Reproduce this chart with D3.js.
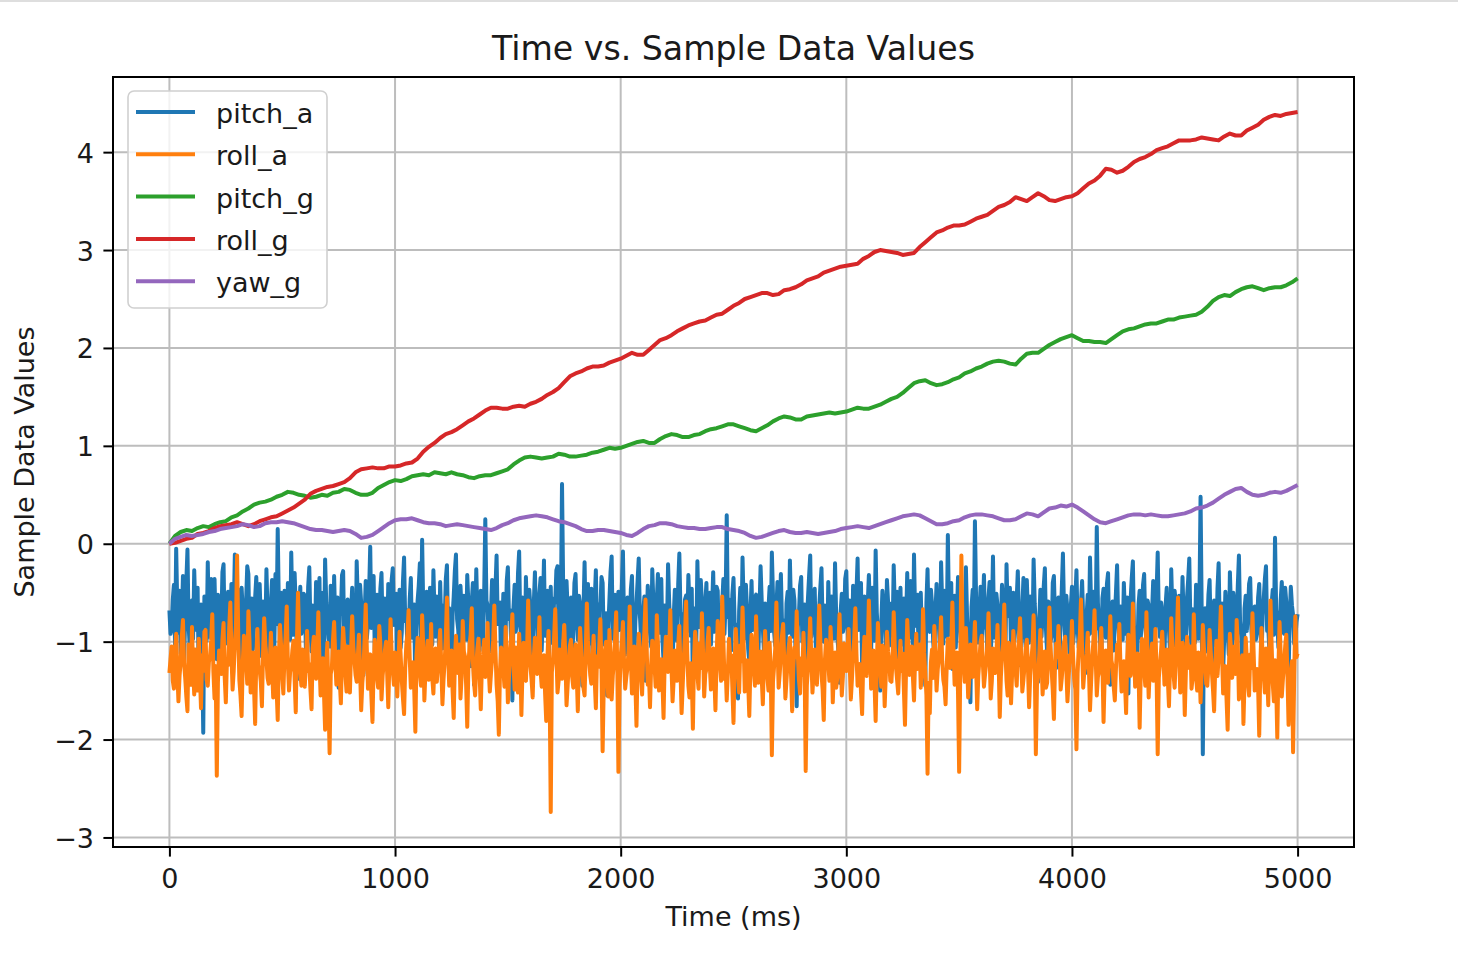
<!DOCTYPE html>
<html>
<head>
<meta charset="utf-8">
<script src="https://cdn.jsdelivr.net/npm/d3@7"></script>
<style>
  body { margin: 0; background: #fff; }
  svg { display: block; font-family: "DejaVu Sans", sans-serif; }
</style>
</head>
<body>
<div class="graph"></div>
<script>
// sample spacing of the two kinds of series (ms)
const accelStepMs = 5;
const gyroStepMs = 25;

const xTicks = [0, 1000, 2000, 3000, 4000, 5000];
const yTicks = [-3, -2, -1, 0, 1, 2, 3, 4];

const seriesNames = ["pitch_a", "roll_a", "pitch_g", "roll_g", "yaw_g"];
const seriesColors = ["#1f77b4", "#ff7f0e", "#2ca02c", "#d62728", "#9467bd"];

// one row = 200 ms
const pitchA = [
  -0.68,-0.92,-0.85,-0.57,-0.42,-1.03,-0.05,-0.66,-0.91,-0.48,-1.12,-0.79,-0.33,-1.21,-0.74,-0.39,-0.06,-0.83,-1.05,-0.61,-0.58,-0.97,-0.27,-0.70,-0.88,-0.45,-1.41,-0.76,-0.62,-1.10,-1.93,-0.54,-0.71,-0.99,-0.19,-0.81,-0.95,-0.36,-0.52,-1.14,
  -0.36,-0.88,-1.18,-0.52,-0.64,-1.07,-0.83,-0.29,-0.21,-0.94,-1.02,-0.63,-0.49,-1.15,-0.77,-0.41,-1.32,-0.72,-0.11,-0.86,-0.69,-0.47,-0.92,-1.20,-0.45,-0.68,-1.25,-0.90,-0.58,-0.23,-0.31,-1.01,-0.87,-0.56,-1.08,-0.80,-0.55,-0.34,-0.73,-1.11,
  -0.41,-0.78,-1.15,-0.59,-0.66,-0.95,-0.26,-0.71,-0.97,-1.24,-0.60,-0.37,-0.84,-1.06,-0.31,-0.82,0.15,-0.64,-1.02,-0.50,-0.72,-1.13,-0.48,-0.87,-1.21,-0.40,-0.57,-0.98,-0.09,-0.69,-0.93,-0.30,-0.66,-1.17,-1.38,-0.75,-0.44,-0.92,-0.80,-0.51,
  -0.53,-1.09,-0.98,-0.44,-0.24,-0.85,-1.10,-0.63,-0.67,-1.00,-0.39,-0.74,-0.86,-0.35,-1.29,-0.90,-0.50,-1.18,-0.16,-0.60,-0.78,-0.96,-1.05,-0.43,-0.62,-1.22,-0.33,-0.81,-0.94,-0.55,-1.47,-0.73,-0.71,-0.32,-0.28,-1.04,-0.89,-0.67,-0.57,-1.15,
  -1.12,-0.70,-0.45,-0.93,-0.73,-1.19,-0.18,-0.58,-0.96,-0.42,-0.61,-1.05,-1.34,-0.77,-0.38,-0.97,-0.82,-0.49,-0.03,-0.86,-0.69,-0.33,-1.08,-0.62,-0.52,-1.26,-0.87,-0.46,-0.30,-0.91,-1.16,-0.56,-0.64,-1.02,-0.41,-0.74,-0.99,-0.37,-0.25,-0.83,
  -0.76,-0.51,-1.23,-0.84,-0.47,-1.06,-0.90,-0.39,-0.14,-0.79,-0.68,-1.12,-1.01,-0.57,-0.35,-0.96,-0.83,-0.62,-1.52,-0.88,-0.58,-0.43,-0.20,-0.99,0.04,-0.67,-0.91,-1.17,-0.49,-0.80,-1.13,-0.45,-0.72,-1.03,-0.27,-0.71,-0.95,-0.54,-0.61,-1.08,
  -0.39,-0.85,-1.07,-0.63,-0.80,-0.36,-0.22,-0.92,-0.66,-1.01,-1.36,-0.74,-0.54,-0.28,-0.11,-0.77,-0.88,-1.14,-0.43,-0.69,-1.19,-0.53,-0.70,-0.98,-0.32,-0.61,-0.97,-1.25,-0.59,-0.40,-1.44,-0.87,-0.26,-0.73,-0.81,-1.09,-0.48,-0.66,-1.03,-0.50,
  0.25,-0.58,-0.63,-0.95,-1.10,-0.71,-0.37,-1.02,-0.85,-0.46,-0.12,-0.82,-0.74,-0.60,-1.27,-0.89,-0.51,-1.16,-0.93,-0.38,-0.24,-0.77,-0.68,-1.04,-1.60,-0.65,-0.42,-0.90,-0.79,-0.30,-0.08,-0.84,-1.01,-0.55,-0.56,-1.20,-0.34,-0.72,-0.89,-0.47,
  -0.65,-0.99,-1.21,-0.61,-0.29,-0.80,-0.82,-1.13,-0.50,-0.35,-1.09,-0.70,-0.17,-0.94,-0.73,-0.48,-1.36,-0.83,-0.44,-1.01,-0.91,-0.56,-0.60,-0.27,-0.23,-0.89,-1.05,-0.64,0.61,-0.42,-0.77,-1.10,-0.38,-0.68,-1.14,-0.81,-0.55,-1.24,-0.86,-0.40,
  -0.31,-0.76,-0.98,-0.53,-0.62,-1.08,-1.45,-0.69,-0.19,-0.87,-0.75,-0.41,-1.02,-0.78,-0.46,-1.15,-0.84,-0.58,-0.27,-0.95,-1.18,-0.62,-0.67,-0.34,-0.40,-1.03,-0.92,-0.71,-1.55,-0.85,-0.58,-0.29,-0.13,-0.97,-0.81,-0.52,-1.06,-0.73,-0.49,-0.88,
  -0.72,-0.45,-0.08,-0.84,-1.13,-0.66,-0.55,-1.00,-0.88,-0.47,-0.33,-0.93,-1.24,-0.79,-0.61,-0.38,-0.15,-0.72,-0.96,-1.19,-0.70,-0.54,-1.40,-0.86,-0.43,-0.67,-0.79,-1.05,-0.26,-0.60,-1.07,-0.82,-0.58,-0.31,-0.91,-0.74,-0.36,-0.98,-1.20,-0.63,
  -0.64,-0.92,-0.21,-0.60,-0.87,-1.06,-1.31,-0.75,-0.47,-0.83,-0.99,-0.41,-0.10,-0.70,-0.73,-1.14,-1.11,-0.57,-0.53,-0.89,-0.32,-0.65,-0.94,-0.46,-1.48,-0.80,-0.66,-1.02,-0.18,-0.71,-0.85,-0.37,-0.59,-0.96,-1.16,-0.62,-0.40,-1.09,-0.77,-0.50,
  -1.03,-0.67,-0.29,-0.90,-0.71,-0.44,-0.48,-1.01,-1.26,-0.78,-0.62,-0.36,-0.92,-0.59,0.29,-0.75,-0.57,-0.98,-1.09,-0.52,-0.35,-0.81,-0.83,-1.18,-1.58,-0.69,-0.45,-0.93,-0.14,-0.63,-0.97,-0.42,-0.68,-1.07,-1.21,-0.74,-0.38,-0.88,-0.80,-0.55,
  -0.52,-0.96,-1.14,-0.70,-0.23,-0.58,-0.86,-1.10,-0.61,-0.84,-1.37,-0.66,-0.44,-0.89,-0.09,-0.53,-0.90,-1.04,-0.67,-0.39,-1.03,-0.74,-0.31,-0.82,-0.78,-1.15,-1.22,-0.61,-0.49,-0.91,-0.17,-0.68,-0.95,-0.47,-0.58,-1.12,-1.66,-0.85,-0.72,-0.43,
  -0.34,-1.00,-0.89,-0.62,-1.17,-0.79,-0.56,-0.33,-0.12,-0.95,-0.81,-0.57,-0.46,-1.08,-1.30,-0.71,-0.65,-0.44,-0.25,-0.86,-1.00,-0.63,-0.74,-1.19,-0.39,-0.80,-1.12,-0.54,-0.60,-0.97,-0.20,-0.73,-0.93,-1.11,-1.42,-0.69,-0.51,-0.90,-0.84,-0.36,
  -0.28,-0.82,-1.06,-0.58,-0.69,-1.13,-0.43,-0.76,-0.98,-0.50,-0.15,-0.88,-0.77,-0.40,-1.25,-0.93,-0.54,-1.02,-0.87,-0.61,-0.32,-0.72,-1.10,-0.45,-0.63,-0.99,-0.07,-0.70,-0.92,-1.16,-1.50,-0.81,-0.48,-0.64,-0.79,-1.05,-0.37,-0.59,-1.04,-0.76,
  -0.61,-0.94,-0.22,-0.67,-0.88,-0.49,-1.19,-0.83,-0.45,-1.03,-0.73,-0.56,-1.33,-0.78,-0.30,-0.91,-0.96,-0.38,-0.57,-1.11,-0.11,-0.75,-0.84,-0.52,-1.08,-0.66,-0.50,-0.97,-0.70,-1.21,-1.45,-0.60,-0.26,-0.85,-0.90,-0.47,-0.62,-1.00,-1.15,-0.71,
  -0.41,-0.77,-0.82,-1.09,-0.19,-0.63,-1.02,-0.48,-0.66,-0.95,0.09,-0.71,-0.93,-0.40,-1.28,-0.81,-0.53,-1.06,-0.76,-0.34,-0.35,-0.88,-1.13,-0.60,-0.58,-0.92,-0.24,-0.73,-0.99,-1.17,-1.62,-0.65,-0.47,-0.90,0.23,-0.55,-0.86,-1.01,-0.69,-0.44,
  -1.07,-0.68,-0.32,-0.86,-0.79,-1.12,-0.55,-0.39,-1.20,-0.74,-0.13,-0.96,-0.87,-0.51,-0.63,-1.04,-1.35,-0.80,-0.42,-0.62,-0.95,-1.18,-0.21,-0.70,-0.74,-0.45,-1.10,-0.89,-0.50,-0.99,-0.83,-0.57,-0.28,-0.76,-1.24,-0.93,-0.66,-0.35,-0.91,-1.05,
  -0.37,-0.73,-1.01,-0.54,-0.58,-0.97,-0.16,-0.61,-0.85,-1.08,-1.41,-0.82,-0.47,-0.95,-0.72,-0.43,-0.25,-0.88,-1.12,-0.59,-0.64,-1.00,-0.94,-0.40,-0.33,-0.78,-1.27,-0.65,-0.55,-1.14,-0.80,-0.46,-0.10,-0.71,-0.98,-0.53,-0.68,-0.90,-1.17,-0.64,
  -0.44,-1.02,-0.89,-0.57,-0.27,-0.84,-1.06,-0.69,-0.61,-0.38,-0.78,-1.15,-1.32,-0.74,-0.52,-0.93,-0.14,-0.66,-0.91,-0.49,-0.70,-0.87,0.17,-0.60,-0.83,-1.03,-1.19,-0.56,-0.46,-0.79,-0.96,-0.41,-0.30,-1.00,-1.44,-0.72,-0.59,-1.09,-0.75,-0.50,
  -0.22,-0.81,-1.03,-0.64,-0.67,-0.98,-0.40,-0.73,-0.92,-0.55,-1.53,-0.86,-0.57,-0.35,-0.18,-0.90,-0.86,-1.20,-1.12,-0.62,-0.48,-0.96,-0.76,-0.42,-0.31,-0.84,-1.00,-0.58,-0.63,-1.07,-1.29,-0.70,-0.38,-0.99,-0.82,-0.51,-0.09,-0.77,-0.95,-0.60,
  -0.71,-0.94,-1.16,-0.63,-0.45,-0.80,-0.88,-1.12,-0.26,-0.69,-1.04,-0.48,-0.60,-0.91,-0.79,-0.53,-1.38,-0.85,-0.34,-0.76,-0.93,-1.05,-0.55,-0.37,-0.15,-0.83,-1.09,-0.67,-0.73,-1.01,-0.42,-0.78,-0.97,-0.58,0.48,-0.70,-2.15,-0.92,-0.66,-1.10,
  -0.84,-0.52,-0.37,-0.91,-1.22,-0.77,-0.58,-1.04,-0.99,-0.46,-0.20,-0.85,-0.75,-0.61,-1.31,-0.94,-0.49,-0.72,-0.87,-1.13,-0.29,-0.68,-1.05,-0.50,-0.62,-0.97,-0.81,-0.43,-0.12,-0.79,-0.94,-1.18,-1.43,-0.66,-0.53,-0.89,-0.70,-0.41,-0.35,-0.86,
  -1.08,-0.70,-0.64,-0.98,-0.90,-0.55,-0.41,-0.83,-1.18,-0.74,-0.56,-0.36,-0.23,-0.89,-0.85,-1.10,-1.26,-0.61,-0.47,-0.93,0.06,-0.67,-0.78,-1.06,-1.01,-0.58,-0.39,-0.84,-0.92,-0.45,-0.60,-1.00,-1.35,-0.76,-0.44,-0.63,-0.73,-1.02,-0.97,-0.80,
  -0.72
];

const rollA = [
  -1.32,-1.18,-1.05,-1.40,-1.48,-1.10,-0.92,-1.29,-1.61,-1.35,-1.20,-0.95,-0.78,-1.22,-1.37,-1.56,-1.71,-1.03,-1.12,-1.44,-0.85,-1.27,-1.54,-1.08,-1.26,-1.50,-0.97,-1.33,-1.68,-1.14,-1.30,-0.90,-0.88,-1.39,-1.45,-1.21,-1.15,-0.99,-0.72,-1.31,
  -1.58,-1.25,-2.37,-1.42,-1.09,-1.17,-1.33,-0.98,-0.81,-1.36,-1.62,-1.19,-1.24,-0.86,-0.60,-1.13,-1.49,-1.30,-1.02,-0.84,-0.12,-0.91,-1.39,-1.55,-1.76,-1.23,-0.94,-1.07,-1.21,-1.43,-0.69,-1.00,-1.52,-1.28,-1.11,-1.47,-1.84,-1.16,-0.87,-1.24,
  -1.29,-1.41,-1.66,-1.12,-0.76,-1.02,-1.18,-1.37,-1.43,-1.20,-0.91,-1.26,-1.57,-1.33,-1.06,-1.48,-1.80,-1.15,-0.83,-1.04,-1.35,-1.53,-1.14,-0.95,-0.64,-1.22,-1.50,-1.31,-1.25,-1.09,-0.99,-1.38,-1.72,-1.01,-0.50,-0.97,-1.31,-1.45,-1.08,-1.19,
  -1.46,-1.21,-0.89,-1.30,-1.23,-1.49,-1.69,-1.07,-0.95,-1.28,-1.38,-1.11,-0.70,-1.19,-1.55,-1.36,-1.17,-1.52,-1.90,-1.24,-1.01,-1.60,-2.14,-1.33,-1.27,-0.98,-0.80,-1.18,-1.44,-1.27,-1.10,-1.40,-1.63,-1.14,-0.86,-1.06,-1.34,-1.51,-1.05,-1.25,
  -1.52,-1.10,-0.74,-1.05,-1.19,-1.34,-1.41,-1.16,-0.93,-1.29,-1.70,-1.42,-1.28,-0.97,-0.62,-1.08,-1.48,-1.23,-1.13,-1.55,-1.82,-1.26,-0.98,-1.12,-1.36,-1.47,-0.84,-1.02,-1.59,-1.35,-1.22,-1.09,-1.00,-1.32,-1.67,-1.20,-0.77,-1.13,-1.30,-1.44,
  -1.11,-1.30,-1.56,-1.22,-0.90,-1.15,-1.40,-1.58,-1.74,-1.27,-1.03,-0.92,-0.68,-1.17,-1.47,-1.35,-1.21,-1.49,-1.92,-1.14,-0.96,-1.08,-1.33,-1.45,-0.73,-1.04,-1.60,-1.28,-1.16,-0.99,-1.39,-1.24,-0.82,-1.37,-1.53,-1.19,-1.07,-1.41,-1.26,-1.06,
  -0.88,-1.25,-1.64,-1.38,-1.20,-0.96,-0.55,-1.11,-1.45,-1.31,-1.09,-1.50,-1.78,-1.21,-0.94,-1.18,-1.32,-1.03,-1.58,-1.36,-0.79,-1.10,-1.15,-1.44,-1.87,-1.27,-1.04,-0.93,-0.66,-1.20,-1.42,-1.55,-1.24,-1.07,-0.97,-1.34,-1.69,-1.23,-1.13,-0.98,
  -1.36,-1.14,-0.81,-1.27,-1.51,-1.33,-1.18,-0.99,-0.63,-1.09,-1.44,-1.61,-1.95,-1.30,-1.06,-1.20,-1.29,-1.46,-0.85,-1.13,-1.62,-1.37,-1.12,-0.94,-0.72,-1.23,-1.49,-1.06,-1.34,-1.52,-0.92,-1.17,-1.75,-1.28,-1.01,-1.39,-1.40,-1.10,-0.58,-1.02,
  -1.25,-1.39,-1.57,-1.16,-0.96,-1.24,-1.33,-1.05,-0.75,-1.29,-1.46,-1.35,-1.14,-1.53,-1.81,-1.20,-0.89,-1.42,-2.74,-1.31,-1.19,-0.95,-0.67,-1.11,-1.52,-1.40,-1.08,-1.26,-1.38,-1.02,-0.83,-1.18,-1.65,-1.45,-1.22,-1.04,-0.98,-1.36,-1.47,-1.21,
  -1.03,-1.32,-1.71,-1.19,-0.86,-1.08,-1.30,-1.47,-1.55,-1.13,-0.61,-0.99,-1.17,-1.34,-1.43,-1.22,-0.94,-1.40,-1.68,-1.15,-1.26,-1.05,-0.77,-1.28,-2.12,-1.44,-1.10,-1.00,-1.37,-1.56,-0.88,-1.14,-1.59,-1.35,-1.21,-0.97,-0.70,-1.26,-2.33,-1.48,
  -1.15,-1.02,-0.80,-1.21,-1.48,-1.36,-1.27,-1.09,-0.64,-1.17,-1.53,-1.30,-1.05,-1.42,-1.86,-1.23,-0.92,-1.11,-1.35,-1.54,-1.12,-0.90,-0.57,-1.06,-1.44,-1.32,-1.67,-1.25,-0.99,-1.13,-1.24,-1.46,-0.73,-1.01,-1.50,-1.34,-1.18,-1.41,-1.78,-1.20,
  -0.95,-1.19,-1.31,-1.07,-0.68,-1.25,-1.61,-1.38,-1.09,-1.22,-1.40,-1.03,-0.84,-1.30,-1.73,-1.44,-1.16,-0.93,-0.59,-1.12,-1.45,-1.57,-1.22,-1.35,-1.89,-1.17,-0.90,-1.04,-1.34,-1.48,-1.02,-1.27,-0.71,-1.10,-1.56,-1.33,-1.28,-1.01,-0.86,-1.24,
  -1.49,-1.28,-1.07,-1.35,-1.70,-1.18,-0.79,-1.06,-1.23,-1.40,-0.54,-0.98,-1.38,-1.25,-1.60,-1.31,-0.97,-1.15,-1.14,-1.47,-1.83,-1.22,-0.87,-1.09,-1.32,-1.52,-1.04,-1.20,-0.65,-1.03,-1.51,-1.36,-1.19,-1.42,-1.76,-1.24,-0.93,-1.11,-1.29,-1.45,
  -0.74,-1.08,-1.42,-1.26,-1.10,-1.37,-1.64,-1.19,-0.89,-1.14,-1.36,-1.50,-1.01,-1.29,-2.16,-1.41,-1.25,-1.07,-0.60,-1.02,-1.47,-1.32,-1.13,-0.94,-0.82,-1.21,-1.58,-1.39,-1.20,-1.05,-0.96,-1.33,-1.71,-1.27,-1.06,-1.16,-0.69,-1.12,-1.39,-1.53,
  -1.17,-1.34,-0.91,-1.22,-2.32,-1.45,-1.27,-1.09,-0.76,-1.18,-1.52,-1.31,-1.08,-1.25,-1.44,-1.03,-0.63,-0.99,-1.33,-1.49,-1.80,-1.20,-0.98,-1.14,-1.21,-1.40,-0.85,-1.10,-1.62,-1.29,-1.11,-1.47,-1.37,-1.05,-0.72,-1.16,-1.55,-1.35,-1.02,-1.23,
  -1.30,-1.12,-0.87,-1.24,-1.59,-1.38,-1.14,-0.97,-0.66,-1.13,-1.45,-1.27,-1.23,-1.51,-1.74,-1.20,-0.95,-1.16,-1.35,-1.06,-0.58,-1.01,-1.48,-1.32,-1.09,-1.43,-1.81,-1.26,-0.81,-1.08,-1.28,-1.46,-1.04,-1.21,-1.66,-1.34,-0.90,-1.10,-1.19,-1.40,
  -1.41,-1.18,-0.70,-1.07,-1.26,-1.39,-1.53,-1.22,-0.99,-1.30,-1.12,-1.48,-1.85,-1.25,-0.78,-1.04,-1.34,-1.19,-1.05,-1.36,-1.60,-1.15,-0.92,-1.28,-1.20,-1.03,-1.47,-1.32,-0.67,-1.11,-1.31,-1.55,-2.35,-1.42,-1.73,-1.21,-1.08,-1.37,-0.84,-1.13,
  -1.50,-1.29,-1.16,-1.02,-0.75,-1.20,-1.39,-1.46,-1.64,-1.25,-0.97,-1.14,-1.27,-1.06,-0.60,-1.09,-1.44,-1.33,-1.11,-1.52,-2.33,-1.30,-0.12,-0.88,-1.24,-1.41,-0.86,-1.17,-1.57,-1.38,-1.03,-1.26,-1.36,-1.08,-0.80,-1.23,-1.69,-1.35,-1.18,-1.00,
  -0.94,-1.21,-1.46,-1.33,-1.22,-1.04,-0.71,-1.12,-1.58,-1.40,-1.07,-1.27,-1.32,-1.15,-0.83,-1.19,-1.77,-1.36,-1.15,-1.02,-0.62,-1.08,-1.40,-1.55,-1.01,-1.24,-1.63,-1.31,-0.89,-1.10,-1.28,-1.45,-1.13,-0.98,-0.76,-1.17,-1.51,-1.39,-1.25,-1.06,
  -0.98,-1.26,-1.67,-1.35,-1.19,-1.05,-0.73,-1.22,-2.15,-1.44,-1.36,-1.13,-0.88,-1.18,-1.54,-1.32,-1.10,-1.47,-1.42,-1.09,-0.65,-1.03,-1.29,-1.50,-1.79,-1.24,-1.02,-1.16,-0.84,-1.11,-1.49,-1.37,-1.21,-1.01,-0.95,-1.28,-1.61,-1.40,-1.14,-1.20,
  -0.79,-1.15,-1.38,-1.49,-2.10,-1.33,-1.06,-0.93,-0.57,-1.08,-1.47,-1.30,-1.24,-1.12,-0.91,-1.27,-1.70,-1.41,-1.17,-0.99,-0.68,-1.14,-1.55,-1.36,-1.31,-1.04,-0.86,-1.23,-1.82,-1.35,-1.09,-1.21,-1.42,-1.07,-0.74,-1.19,-1.26,-1.46,-1.60,-1.28,
  -1.03,-1.17,-0.82,-1.25,-1.51,-1.34,-1.20,-1.42,-1.73,-1.16,-0.93,-1.10,-1.35,-1.22,-0.61,-1.05,-1.46,-1.38,-1.12,-1.29,-1.88,-1.31,-0.97,-1.08,-1.29,-1.45,-0.70,-1.13,-1.57,-1.26,-1.15,-1.02,-1.40,-1.19,-0.87,-1.32,-2.15,-1.37,-1.23,-1.09,
  -0.90,-1.13,-1.44,-1.28,-1.08,-1.39,-1.66,-1.20,-0.76,-1.06,-1.33,-1.47,-1.19,-0.96,-0.55,-1.11,-1.52,-1.34,-1.01,-1.23,-1.75,-1.30,-0.95,-1.14,-1.27,-1.05,-1.48,-1.36,-0.72,-1.18,-1.36,-1.50,-1.11,-1.25,-1.62,-1.29,-0.83,-1.07,-1.21,-1.43,
  -1.45,-1.24,-0.88,-1.10,-1.30,-1.49,-1.71,-1.26,-0.99,-1.35,-1.16,-0.97,-0.64,-1.12,-1.53,-1.40,-1.25,-1.58,-1.90,-1.31,-0.92,-1.07,-1.37,-1.21,-1.05,-1.33,-0.78,-1.03,-1.59,-1.44,-1.22,-1.14,-1.84,-1.39,-0.96,-1.18,-1.41,-1.55,-1.13,-1.27,
  -0.71,-1.09,-1.50,-1.37,-1.28,-1.46,-1.96,-1.22,-0.86,-1.15,-1.34,-1.52,-1.07,-1.30,-1.65,-1.11,-0.58,-1.04,-1.43,-1.61,-1.19,-1.42,-1.98,-1.27,-0.80,-1.12,-1.56,-1.38,-1.24,-1.05,-0.93,-1.33,-1.85,-1.48,-1.32,-1.20,-2.13,-1.35,-0.74,-1.16,
  -1.12
];

// one row = 500 ms
const pitchG = [
  0.00,0.08,0.12,0.14,0.13,0.16,0.18,0.17,0.20,0.22,0.23,0.27,0.29,0.33,0.36,0.40,0.42,0.43,0.45,0.48,
  0.50,0.53,0.52,0.50,0.49,0.47,0.48,0.50,0.49,0.52,0.53,0.56,0.55,0.52,0.50,0.50,0.52,0.57,0.60,0.63,
  0.65,0.64,0.66,0.69,0.70,0.71,0.70,0.73,0.72,0.71,0.73,0.71,0.70,0.68,0.67,0.69,0.70,0.70,0.72,0.74,
  0.76,0.81,0.85,0.88,0.89,0.88,0.87,0.88,0.89,0.92,0.91,0.89,0.89,0.90,0.91,0.93,0.94,0.96,0.98,0.97,
  0.98,1.00,1.02,1.04,1.05,1.03,1.03,1.07,1.10,1.12,1.11,1.09,1.09,1.11,1.12,1.15,1.17,1.18,1.20,1.22,
  1.22,1.20,1.18,1.16,1.15,1.18,1.21,1.25,1.28,1.30,1.29,1.27,1.27,1.30,1.31,1.32,1.33,1.34,1.33,1.34,
  1.35,1.37,1.39,1.38,1.38,1.40,1.42,1.45,1.48,1.50,1.54,1.59,1.64,1.66,1.67,1.64,1.62,1.63,1.65,1.68,
  1.70,1.74,1.76,1.79,1.81,1.84,1.86,1.87,1.86,1.84,1.83,1.89,1.94,1.95,1.95,1.99,2.03,2.06,2.09,2.11,
  2.13,2.10,2.07,2.07,2.06,2.06,2.05,2.09,2.13,2.17,2.19,2.20,2.22,2.24,2.25,2.25,2.27,2.29,2.29,2.31,
  2.32,2.33,2.34,2.37,2.42,2.48,2.52,2.54,2.53,2.57,2.60,2.62,2.63,2.61,2.59,2.61,2.62,2.62,2.64,2.67,
  2.71
];

const rollG = [
  0.00,0.01,0.03,0.05,0.06,0.10,0.11,0.13,0.16,0.18,0.19,0.20,0.22,0.20,0.18,0.20,0.23,0.25,0.27,0.28,
  0.31,0.34,0.37,0.41,0.45,0.51,0.54,0.56,0.58,0.59,0.61,0.63,0.67,0.73,0.76,0.77,0.78,0.77,0.77,0.79,
  0.79,0.80,0.82,0.83,0.87,0.94,0.99,1.03,1.08,1.12,1.14,1.17,1.21,1.25,1.28,1.32,1.36,1.39,1.39,1.38,
  1.38,1.40,1.41,1.40,1.43,1.45,1.48,1.52,1.55,1.59,1.65,1.71,1.74,1.76,1.79,1.81,1.81,1.82,1.85,1.87,
  1.89,1.92,1.95,1.93,1.93,1.98,2.03,2.08,2.10,2.13,2.17,2.20,2.23,2.25,2.27,2.28,2.31,2.34,2.35,2.39,
  2.43,2.46,2.50,2.52,2.54,2.56,2.56,2.54,2.55,2.59,2.60,2.62,2.65,2.69,2.71,2.73,2.77,2.79,2.81,2.83,
  2.84,2.85,2.86,2.91,2.94,2.98,3.00,2.99,2.98,2.97,2.95,2.96,2.97,3.03,3.08,3.13,3.18,3.20,3.23,3.25,
  3.25,3.26,3.29,3.32,3.34,3.36,3.40,3.44,3.46,3.49,3.54,3.52,3.50,3.54,3.58,3.55,3.51,3.50,3.52,3.54,
  3.55,3.58,3.63,3.68,3.71,3.76,3.83,3.82,3.79,3.81,3.85,3.90,3.93,3.95,3.98,4.02,4.04,4.06,4.09,4.12,
  4.12,4.12,4.13,4.15,4.14,4.13,4.12,4.16,4.19,4.17,4.17,4.22,4.25,4.28,4.33,4.36,4.38,4.37,4.39,4.40,
  4.41
];

const yawG = [
  0.00,0.05,0.07,0.09,0.08,0.09,0.10,0.12,0.13,0.15,0.16,0.17,0.18,0.20,0.19,0.17,0.18,0.21,0.22,0.22,
  0.23,0.22,0.21,0.19,0.17,0.15,0.14,0.14,0.13,0.12,0.13,0.14,0.13,0.10,0.06,0.07,0.09,0.13,0.17,0.21,
  0.24,0.25,0.25,0.26,0.24,0.22,0.21,0.21,0.20,0.18,0.19,0.20,0.19,0.18,0.17,0.16,0.15,0.14,0.16,0.19,
  0.21,0.24,0.26,0.27,0.28,0.29,0.28,0.27,0.25,0.23,0.22,0.20,0.18,0.15,0.13,0.13,0.14,0.14,0.13,0.12,
  0.11,0.09,0.08,0.11,0.15,0.18,0.19,0.21,0.21,0.20,0.18,0.17,0.16,0.16,0.15,0.15,0.16,0.17,0.17,0.15,
  0.14,0.13,0.11,0.08,0.06,0.07,0.09,0.11,0.13,0.14,0.12,0.11,0.11,0.12,0.11,0.10,0.11,0.12,0.13,0.15,
  0.16,0.17,0.18,0.17,0.16,0.18,0.20,0.22,0.24,0.26,0.28,0.29,0.30,0.29,0.26,0.23,0.20,0.20,0.21,0.23,
  0.24,0.27,0.29,0.30,0.30,0.29,0.28,0.26,0.24,0.24,0.25,0.28,0.31,0.30,0.28,0.32,0.36,0.37,0.39,0.38,
  0.40,0.37,0.33,0.29,0.25,0.22,0.21,0.23,0.25,0.27,0.29,0.30,0.30,0.29,0.30,0.29,0.28,0.28,0.29,0.30,
  0.31,0.33,0.36,0.37,0.39,0.42,0.46,0.50,0.53,0.56,0.57,0.53,0.50,0.49,0.50,0.52,0.53,0.52,0.54,0.57,
  0.60
];

const width = 1458,
      height = 954;
const margin = { top: 77, right: 104, bottom: 107, left: 113 };
const plotW = width - margin.left - margin.right,
      plotH = height - margin.top - margin.bottom;
const lineW = 4;

const series = [
  { values: pitchA, step: accelStepMs },
  { values: rollA, step: accelStepMs },
  { values: pitchG, step: gyroStepMs },
  { values: rollG, step: gyroStepMs },
  { values: yawG, step: gyroStepMs }
].map((s, i) => ({
  name: seriesNames[i],
  color: seriesColors[i],
  points: s.values.map((v, j) => [j * s.step, v])
}));

// matplotlib style 5% margins
const allX = series.flatMap(s => s.points.map(p => p[0]));
const allY = series.flatMap(s => s.points.map(p => p[1]));
const [x0, x1] = d3.extent(allX);
const [y0, y1] = d3.extent(allY);
const xPad = (x1 - x0) * 0.05, yPad = (y1 - y0) * 0.05;

const xScale = d3.scaleLinear().domain([x0 - xPad, x1 + xPad]).range([0, plotW]);
const yScale = d3.scaleLinear().domain([y0 - yPad, y1 + yPad]).range([plotH, 0]);

const svg = d3.select(".graph")
  .append("svg")
  .attr("width", width)
  .attr("height", height);

svg.append("rect").attr("width", width).attr("height", height).attr("fill", "#fff");
svg.append("rect").attr("width", width).attr("height", 2).attr("fill", "#dedede");

const g = svg.append("g").attr("transform", `translate(${margin.left},${margin.top})`);

// grid
g.append("g").selectAll("line").data(xTicks).join("line")
  .attr("x1", d => xScale(d)).attr("x2", d => xScale(d))
  .attr("y1", 0).attr("y2", plotH)
  .attr("stroke", "#bdbdbd").attr("stroke-width", 2);
g.append("g").selectAll("line").data(yTicks).join("line")
  .attr("x1", 0).attr("x2", plotW)
  .attr("y1", d => yScale(d)).attr("y2", d => yScale(d))
  .attr("stroke", "#bdbdbd").attr("stroke-width", 2);

g.append("clipPath").attr("id", "clip")
  .append("rect").attr("width", plotW).attr("height", plotH);

const line = d3.line().x(d => xScale(d[0])).y(d => yScale(d[1]));

g.append("g").attr("clip-path", "url(#clip)")
  .selectAll("path").data(series).join("path")
  .attr("d", d => line(d.points))
  .attr("fill", "none")
  .attr("stroke", d => d.color)
  .attr("stroke-width", lineW)
  .attr("stroke-linejoin", "round");

// axes
const xAxis = d3.axisBottom(xScale).tickValues(xTicks).tickFormat(d3.format("d"))
  .tickSize(9.6).tickPadding(12);
const yAxis = d3.axisLeft(yScale).tickValues(yTicks).tickFormat(d3.format("d"))
  .tickSize(9.6).tickPadding(9.4);

const gx = g.append("g").attr("transform", `translate(0,${plotH})`).call(xAxis);
const gy = g.append("g").call(yAxis);
[gx, gy].forEach(a => {
  a.select(".domain").remove();
  a.selectAll(".tick line").attr("stroke", "#000").attr("stroke-width", 2);
  a.selectAll(".tick text")
    .attr("fill", "#1a1a1a")
    .style("font-family", "'DejaVu Sans'")
    .style("font-size", "27px");
});
gy.selectAll(".tick text").attr("dy", "0.37em");

// spines
g.append("rect")
  .attr("width", plotW).attr("height", plotH)
  .attr("fill", "none").attr("stroke", "#000").attr("stroke-width", 2);

// legend
const legend = g.append("g").attr("transform", "translate(15,14)");
legend.append("rect")
  .attr("width", 199).attr("height", 217)
  .attr("rx", 6).attr("ry", 6)
  .attr("fill", "#fff").attr("fill-opacity", 0.8)
  .attr("stroke", "#d0d0d0").attr("stroke-width", 1.6);
const item = legend.selectAll(".item").data(series).join("g")
  .attr("transform", (d, i) => `translate(0,${21 + i * 42.3})`);
item.append("line")
  .attr("x1", 8).attr("x2", 67)
  .attr("stroke", d => d.color).attr("stroke-width", lineW);
item.append("text")
  .attr("x", 88).attr("y", 11)
  .attr("fill", "#1a1a1a")
  .style("font-size", "27px")
  .text(d => d.name);

// labels
svg.append("text")
  .attr("x", margin.left + plotW / 2).attr("y", 60)
  .attr("text-anchor", "middle")
  .attr("fill", "#1a1a1a")
  .style("font-size", "33.2px")
  .text("Time vs. Sample Data Values");

svg.append("text")
  .attr("x", margin.left + plotW / 2).attr("y", 926)
  .attr("text-anchor", "middle")
  .attr("fill", "#1a1a1a")
  .style("font-size", "27px")
  .text("Time (ms)");

svg.append("text")
  .attr("transform", `translate(34,${margin.top + plotH / 2}) rotate(-90)`)
  .attr("text-anchor", "middle")
  .attr("fill", "#1a1a1a")
  .style("font-size", "27px")
  .text("Sample Data Values");
</script>
</body>
</html>
